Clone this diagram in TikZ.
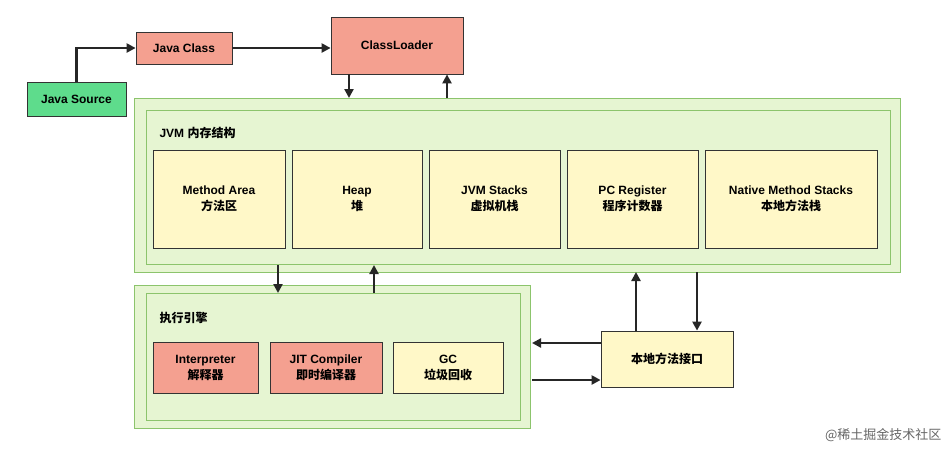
\documentclass[tikz,border=0pt]{standalone}
\usepackage{fontspec}
\setmainfont{Liberation Sans}
\newfontfamily\cjk{Noto Sans CJK SC}
\usetikzlibrary{arrows.meta}
\definecolor{salmon}{HTML}{F4A090}
\definecolor{mint}{HTML}{5EDC8C}
\definecolor{lgreen}{HTML}{E6F5D2}
\definecolor{gborder}{HTML}{8CC46C}
\definecolor{lyellow}{HTML}{FFF8C8}
\tikzset{
 box/.style={draw=black!80,line width=0.8pt,font=\bfseries\fontsize{12}{16}\selectfont,align=center,inner sep=0pt},
 red/.style={box,fill=salmon},
 yel/.style={box,fill=lyellow},
 grn/.style={box,fill=mint},
 area/.style={draw=gborder,fill=lgreen,line width=1pt},
 arr/.style={-{Triangle[length=9pt,width=9pt]},line width=2.8pt,black!85},
 ttl/.style={font=\bfseries\fontsize{12}{14}\selectfont,anchor=west}
}
\begin{document}
\begin{tikzpicture}[x=1pt,y=-1pt]
\useasboundingbox (0,0) rectangle (952,451);
\fill[white] (0,0) rectangle (952,451);
% areas
\draw[area] (134,98) rectangle (900,272);
\draw[area] (146,110) rectangle (890,264);
\node[ttl] (jvmt) at (156,133) {JVM {\cjk 内存结构}};
\draw[area] (134,285) rectangle (530,428);
\draw[area] (146,293) rectangle (520,420);
\node[ttl] (exet) at (156,318) {\cjk 执行引擎};
% boxes
\node[grn,minimum width=99pt,minimum height=34pt] (src) at (76.5,99) {Java Source};
\node[red,minimum width=96pt,minimum height=32pt] (cls) at (184,48) {Java Class};
\node[red,minimum width=132pt,minimum height=57pt] (cl) at (397,45.5) {ClassLoader};
\node[yel,minimum width=132pt,minimum height=98pt] (ma) at (219,199) {Method Area\\{\cjk 方法区}};
\node[yel,minimum width=130pt,minimum height=98pt] (hp) at (357,199) {Heap\\{\cjk 堆}};
\node[yel,minimum width=131pt,minimum height=98pt] (js) at (494.5,199) {JVM Stacks\\{\cjk 虚拟机栈}};
\node[yel,minimum width=131pt,minimum height=98pt] (pc) at (632.5,199) {PC Register\\{\cjk 程序计数器}};
\node[yel,minimum width=172pt,minimum height=98pt] (nm) at (791,199) {Native Method Stacks\\{\cjk 本地方法栈}};
\node[red,minimum width=105pt,minimum height=51pt] (ip) at (205.5,367.5) {Interpreter\\{\cjk 解释器}};
\node[red,minimum width=112pt,minimum height=51pt] (jit) at (326,367.5) {JIT Compiler\\{\cjk 即时编译器}};
\node[yel,minimum width=110pt,minimum height=51pt] (gc) at (448,367.5) {GC\\{\cjk 垃圾回收}};
\node[yel,minimum width=132pt,minimum height=56pt] (ni) at (667,359) {{\cjk 本地方法接口}};
% coordinates
\coordinate (jt) at (349,98); \coordinate (jt2) at (447,98);
\coordinate (jb1) at (278,265); \coordinate (eb1) at (278,293);
\coordinate (jb2) at (374,265); \coordinate (eb2) at (374,293);
\coordinate (jr1) at (636,272); \coordinate (jr2) at (697,272);
\coordinate (el1) at (532,343); \coordinate (el2) at (532,380);
% arrows
\draw[arr] (src.north) |- (cls.west);
\draw[arr] (cls.east) -- (cls.east -| cl.west);
\draw[arr] (cl.south -| jt) -- (jt);
\draw[arr] (jt2) -- (cl.south -| jt2);
\draw[arr] (jb1) -- (eb1);
\draw[arr] (eb2) -- (jb2);
\draw[arr] (ni.north -| jr1) -- (jr1);
\draw[arr] (jr2) -- (ni.north -| jr2);
\draw[arr] (ni.west |- el1) -- (el1);
\draw[arr] (el2) -- (ni.west |- el2);
\node[font=\cjk\fontsize{13}{15}\selectfont,text=black!60,anchor=east] (wm) at (945,435) {@稀土掘金技术社区};
\end{tikzpicture}
\end{document}
